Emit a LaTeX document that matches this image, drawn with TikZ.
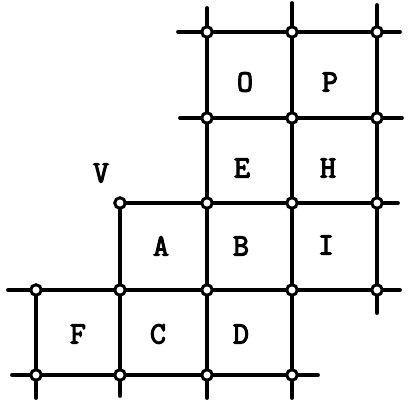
\documentclass[tikz,border=0pt]{standalone}
\usepackage{fontspec}
\newfontfamily\cellfont{Latin Modern Mono}[FakeBold=3.5]
\usepackage{tikz}

\begin{document}
\begin{tikzpicture}[
  x=1pt, y=-1pt,
  edge/.style={line width=3.8pt, line cap=round},
  pin/.style={circle, draw, fill=white, line width=3pt, inner sep=0pt, minimum size=10.5pt},
  cell/.style={font=\cellfont\fontsize{31}{33}\selectfont, inner sep=0pt}
]
\useasboundingbox (0,0) rectangle (408,400);
% vertices
\node[pin] (p31) at (207,32) {};
\node[pin] (p41) at (292,32) {};
\node[pin] (p51) at (377,32) {};
\node[pin] (p32) at (207,118) {};
\node[pin] (p42) at (292,118) {};
\node[pin] (p52) at (377,118) {};
\node[pin] (p23) at (120,203) {};
\node[pin] (p33) at (207,203) {};
\node[pin] (p43) at (292,203) {};
\node[pin] (p53) at (377,203) {};
\node[pin] (p14) at (36,290) {};
\node[pin] (p24) at (120,290) {};
\node[pin] (p34) at (207,290) {};
\node[pin] (p44) at (292,290) {};
\node[pin] (p54) at (377,290) {};
\node[pin] (p15) at (36,375) {};
\node[pin] (p25) at (120,375) {};
\node[pin] (p35) at (207,375) {};
\node[pin] (p45) at (292,375) {};
% free line ends
\coordinate (w1) at (178,32);  \coordinate (e1) at (400,32);
\coordinate (w2) at (180,118); \coordinate (e2) at (402,118);
\coordinate (e3) at (398,203);
\coordinate (w4) at (8,290);   \coordinate (e4) at (400,290);
\coordinate (w5) at (12,375);  \coordinate (e5) at (318,375);
\coordinate (s1) at (36,398);
\coordinate (s2) at (120,396);
\coordinate (n3) at (207,8);   \coordinate (s3) at (207,398);
\coordinate (n4) at (292,3);   \coordinate (s4) at (292,398);
\coordinate (n5) at (377,5);   \coordinate (s5) at (377,313);
% rows
\draw[edge] (w1) -- (p31) -- (p41) -- (p51) -- (e1);
\draw[edge] (w2) -- (p32) -- (p42) -- (p52) -- (e2);
\draw[edge] (p23) -- (p33) -- (p43) -- (p53) -- (e3);
\draw[edge] (w4) -- (p14) -- (p24) -- (p34) -- (p44) -- (p54) -- (e4);
\draw[edge] (w5) -- (p15) -- (p25) -- (p35) -- (p45) -- (e5);
% columns
\draw[edge] (p14) -- (p15) -- (s1);
\draw[edge] (p23) -- (p24) -- (p25) -- (s2);
\draw[edge] (n3) -- (p31) -- (p32) -- (p33) -- (p34) -- (p35) -- (s3);
\draw[edge] (n4) -- (p41) -- (p42) -- (p43) -- (p44) -- (p45) -- (s4);
\draw[edge] (n5) -- (p51) -- (p52) -- (p53) -- (p54) -- (s5);
% labels
\node[cell] (o) at (245,82) {O};
\node[cell] (p) at (330,82) {P};
\node[cell] (e) at (242,168) {E};
\node[cell] (h) at (328,168) {H};
\node[cell] (a) at (161,246) {A};
\node[cell] (b) at (241,246) {B};
\node[cell] (i) at (326,245) {I};
\node[cell] (f) at (78,334) {F};
\node[cell] (c) at (158,334) {C};
\node[cell] (d) at (241,334) {D};
\node[cell] (v) at (101,173) {V};
\end{tikzpicture}
\end{document}
